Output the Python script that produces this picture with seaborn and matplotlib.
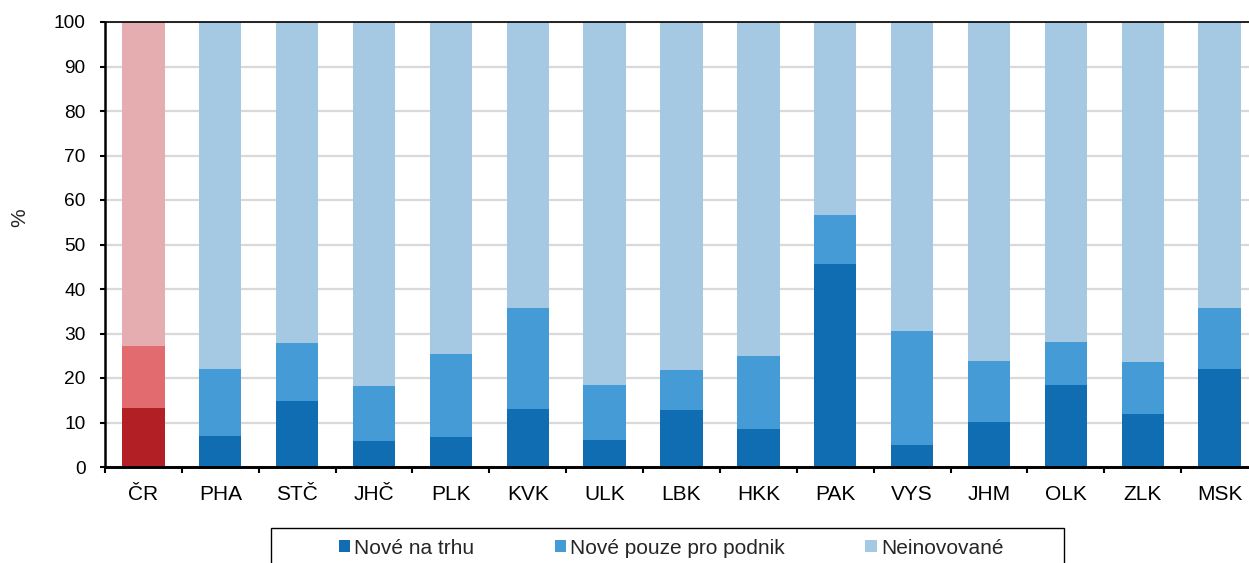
import numpy as np
import pandas as pd
import matplotlib
matplotlib.use("Agg")
import matplotlib.pyplot as plt
from matplotlib.patches import Patch, Rectangle
import seaborn as sns

categories = ["ČR", "PHA", "STČ", "JHČ", "PLK", "KVK", "ULK", "LBK", "HKK",
              "PAK", "VYS", "JHM", "OLK", "ZLK", "MSK"]
nove_na_trhu = [13.2, 7.0, 14.9, 5.8, 6.8, 13.1, 6.0, 12.7, 8.6, 45.7, 4.9, 10.2, 18.5, 12.0, 22.0]
nove_pro_podnik = [14.0, 15.0, 13.0, 12.5, 18.7, 22.7, 12.4, 9.0, 16.4, 11.0, 25.6, 13.6, 9.6, 11.6, 13.8]
neinovovane = [100 - a - b for a, b in zip(nove_na_trhu, nove_pro_podnik)]
series_labels = ["Nové na trhu", "Nové pouze pro podnik", "Neinovované"]

blue_cols = ["#116db2", "#459bd5", "#a6c9e3"]
red_cols = ["#b21f24", "#e26b70", "#e5adb0"]

sns.set_theme(style="white")
plt.rcParams["font.family"] = ["Liberation Sans", "DejaVu Sans"]

FS = 15
FS_Y = 13.8

fig = plt.figure(figsize=(12.49, 5.63), dpi=100)
ax = fig.add_axes([105 / 1249, (563 - 467) / 563, 1153 / 1249, 445 / 563])

df = pd.DataFrame({
    "cat": categories,
    "l1": nove_na_trhu,
    "l2": np.array(nove_na_trhu) + np.array(nove_pro_podnik),
    "l3": np.array(nove_na_trhu) + np.array(nove_pro_podnik) + np.array(neinovovane),
})

for level, col in zip(["l3", "l2", "l1"], [2, 1, 0]):
    pal = {c: (red_cols[col] if c == "ČR" else blue_cols[col]) for c in categories}
    sns.barplot(data=df, x="cat", y=level, hue="cat", palette=pal, legend=False,
                width=0.55, ax=ax, saturation=1, zorder=3, linewidth=0)

ax.set_ylim(0, 100)
ax.set_xlim(-0.5, len(categories) - 0.5)
ax.set_yticks(np.arange(0, 101, 10))
ax.yaxis.grid(True, color="#d9d9d9", linewidth=1.6, zorder=0)
ax.xaxis.grid(False)
ax.set_axisbelow(True)
ax.set_xlabel("")
ax.set_ylabel("")

ax.set_xticks(np.arange(len(categories)))
ax.set_xticklabels(categories)
ax.set_xticks(np.arange(len(categories) + 1) - 0.5, minor=True)
ax.tick_params(axis="x", which="major", length=0, pad=13, labelsize=FS, colors="black")
ax.tick_params(axis="x", which="minor", length=4, width=1.5, color="black", direction="out", bottom=True)
ax.tick_params(axis="y", which="major", length=3.5, width=1.5, color="black", direction="out",
               labelsize=FS_Y, pad=10.5, left=True, labelcolor="black")

for s in ["left", "bottom", "top"]:
    ax.spines[s].set_visible(True)
    ax.spines[s].set_color("black")
    ax.spines[s].set_zorder(5)
ax.spines["left"].set_linewidth(1.8)
ax.spines["bottom"].set_linewidth(2.1)
ax.spines["top"].set_linewidth(1.2)
ax.spines["right"].set_visible(False)

fig.text(20 / 1249, 1 - 218 / 563, "%", rotation=90, ha="center", va="center", fontsize=FS)

# legend box
fig.patches.append(Rectangle((271 / 1249, -0.05), (1064 - 271) / 1249, 0.05 + (563 - 528) / 563,
                             transform=fig.transFigure, fill=False, edgecolor="black",
                             linewidth=1.0, figure=fig))
handles = [Patch(facecolor=c, edgecolor="none") for c in blue_cols]
leg = fig.legend(handles, series_labels, loc="center", ncol=3, frameon=False,
                 bbox_to_anchor=(671 / 1249, 1 - 548 / 563), fontsize=FS,
                 handlelength=0.55, handleheight=0.55, handletextpad=0.2,
                 columnspacing=3.85)

fig.savefig("out.png", dpi=100)
